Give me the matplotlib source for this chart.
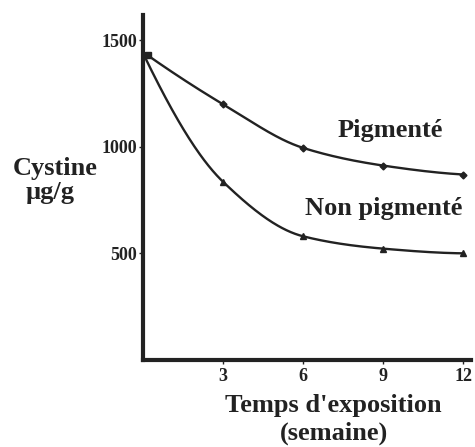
import numpy as np
import matplotlib
matplotlib.use("Agg")
import matplotlib.pyplot as plt

weeks = [0, 3, 6, 9, 12]
pigmente = [1445, 1200, 995, 912, 870]
non_pigmente = [1440, 836, 580, 522, 500]
xticks = [3, 6, 9, 12]
yticks = [500, 1000, 1500]

def pchip(x, y, xs):
    x = np.asarray(x, float); y = np.asarray(y, float)
    h = np.diff(x); d = np.diff(y) / h
    m = np.zeros_like(y)
    for k in range(1, len(x) - 1):
        if d[k - 1] * d[k] > 0:
            w1 = 2 * h[k] + h[k - 1]; w2 = h[k] + 2 * h[k - 1]
            m[k] = (w1 + w2) / (w1 / d[k - 1] + w2 / d[k])
    m[0] = ((2 * h[0] + h[1]) * d[0] - h[0] * d[1]) / (h[0] + h[1])
    if np.sign(m[0]) != np.sign(d[0]):
        m[0] = 0
    m[-1] = ((2 * h[-1] + h[-2]) * d[-1] - h[-1] * d[-2]) / (h[-1] + h[-2])
    if np.sign(m[-1]) != np.sign(d[-1]):
        m[-1] = 0
    idx = np.clip(np.searchsorted(x, xs) - 1, 0, len(x) - 2)
    t = (xs - x[idx]) / h[idx]
    h00 = 2 * t**3 - 3 * t**2 + 1; h10 = t**3 - 2 * t**2 + t
    h01 = -2 * t**3 + 3 * t**2; h11 = t**3 - t**2
    return h00 * y[idx] + h10 * h[idx] * m[idx] + h01 * y[idx + 1] + h11 * h[idx] * m[idx + 1]

plt.rcParams['font.family'] = ['Liberation Serif', 'DejaVu Serif']
plt.rcParams['font.weight'] = 'bold'

INK = '#222222'
fig = plt.figure(figsize=(4.75, 4.47), dpi=100)
ax = fig.add_axes([0.301, 0.195, 0.691, 0.772])

xs = np.linspace(0, 12, 300)
ax.plot(xs, pchip(weeks, pigmente, xs), color=INK, lw=1.7)
ax.plot(xs, pchip(weeks, non_pigmente, xs), color=INK, lw=1.7)
ax.plot(weeks[1:], pigmente[1:], 'D', color=INK, ms=3.5)
ax.plot(weeks[1:], non_pigmente[1:], '^', color=INK, ms=4.5)
ax.plot([0.2], [1430], 's', color=INK, ms=4)

ax.set_xlim(0, 12.3)
ax.set_ylim(0, 1620)
ax.set_xticks(xticks)
ax.set_yticks(yticks)
ax.tick_params(axis='both', direction='out', length=3, width=1, labelsize=13, pad=1, colors=INK)
ax.tick_params(axis='x', pad=3)
for lab in ax.get_xticklabels() + ax.get_yticklabels():
    lab.set_fontweight('bold')
for s in ['top', 'right']:
    ax.spines[s].set_visible(False)
for s in ['left', 'bottom']:
    ax.spines[s].set_linewidth(3)
    ax.spines[s].set_color(INK)

def ftext(x, y, s):
    fig.text(x / 475, 1 - y / 447, s, fontsize=19, fontweight='bold', ha='center', va='baseline', color=INK)

ftext(390, 137, 'Pigmenté')
ftext(384, 215, 'Non pigmenté')
ftext(55, 175, 'Cystine')
ftext(50, 199, 'µg/g')
ftext(333, 412, "Temps d'exposition")
ftext(334, 440, "(semaine)")

fig.savefig('out.png', dpi=100)
